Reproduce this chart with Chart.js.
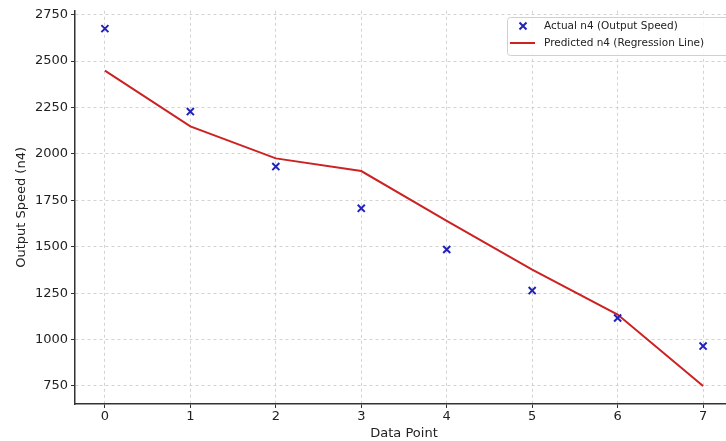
<!DOCTYPE html>
<html>
<head>
<meta charset="utf-8">
<script src="https://cdn.jsdelivr.net/npm/chart.js@4.4.1/dist/chart.umd.min.js"></script>
<style>
  html, body { margin: 0; padding: 0; background: #fff; overflow: hidden; }
  #wrap { width: 740px; height: 441px; }
</style>
</head>
<body>
<div id="wrap"><canvas id="speedChart" width="740" height="441"></canvas></div>
<script>
const dataPoints = [0, 1, 2, 3, 4, 5, 6, 7];
const actualN4 = [2675, 2228, 1932, 1707, 1485, 1264, 1116, 965];
const predictedN4 = [2449, 2148, 1976, 1908, 1640, 1377, 1135, 750];
const yTicks = [750, 1000, 1250, 1500, 1750, 2000, 2250, 2500, 2750];

const FONT = "'DejaVu Sans', sans-serif";

// legend drawn inside the plot, upper right like matplotlib
const innerLegend = {
  id: 'innerLegend',
  afterDraw(chart) {
    const c = chart.ctx;
    const x0 = 507, y0 = 17, w = 240, h = 38;
    c.save();
    c.fillStyle = 'rgba(255,255,255,0.85)';
    c.strokeStyle = '#d0d0d0';
    c.lineWidth = 1;
    c.beginPath();
    c.roundRect(x0 + 0.5, y0 + 0.5, w, h, 3);
    c.fill();
    c.stroke();
    c.font = '10.5px ' + FONT;
    c.textBaseline = 'middle';
    chart.data.datasets.forEach((ds, i) => {
      const cy = y0 + 9 + i * 17;
      c.strokeStyle = ds.borderColor;
      c.lineWidth = 2;
      c.beginPath();
      if (ds.showLine) {
        c.moveTo(510, cy);
        c.lineTo(535, cy);
      } else {
        c.moveTo(519.5, cy - 3.5); c.lineTo(526.5, cy + 3.5);
        c.moveTo(526.5, cy - 3.5); c.lineTo(519.5, cy + 3.5);
      }
      c.stroke();
      c.fillStyle = '#222';
      c.fillText(ds.label, 544, cy);
    });
    c.restore();
  }
};

const gridOpts = {
  color: '#c8c8c8', lineWidth: 0.8, tickColor: '#333', tickLength: 4,
  tickBorderDash: [], tickWidth: 1, drawTicks: true
};

const ctx = document.getElementById('speedChart').getContext('2d');
const speedChart = new Chart(ctx, {
  type: 'scatter',
  data: {
    datasets: [{
      label: 'Actual n4 (Output Speed)',
      data: dataPoints.map((x, i) => ({ x: x, y: actualN4[i] })),
      showLine: false,
      pointStyle: 'crossRot',
      pointRadius: 5,
      pointBorderWidth: 2,
      borderColor: '#2222bb',
      backgroundColor: '#2222bb',
      order: 0
    }, {
      label: 'Predicted n4 (Regression Line)',
      data: dataPoints.map((x, i) => ({ x: x, y: predictedN4[i] })),
      showLine: true,
      borderColor: '#cc2222',
      borderWidth: 2,
      pointRadius: 0,
      tension: 0,
      order: 1
    }]
  },
  options: {
    responsive: false,
    animation: false,
    layout: { padding: { top: 10, right: 4, left: 14, bottom: 0 } },
    plugins: {
      legend: { display: false },
      tooltip: { enabled: false }
    },
    scales: {
      x: {
        type: 'linear',
        min: -0.35,
        max: 7.35,
        afterBuildTicks: s => { s.ticks = dataPoints.map(v => ({ value: v })); },
        afterFit: s => { s.height = 37; },
        border: { display: true, color: '#333', width: 1.5, dash: [3, 3] },
        grid: gridOpts,
        ticks: { color: '#222', font: { family: FONT, size: 13 }, padding: 1 },
        title: {
          display: true, text: 'Data Point', color: '#222',
          font: { family: FONT, size: 13 }, padding: { top: 0, bottom: 0 }
        }
      },
      y: {
        min: 653,
        max: 2771,
        afterBuildTicks: s => { s.ticks = yTicks.map(v => ({ value: v })); },
        afterFit: s => { s.width = 61; },
        border: { display: true, color: '#333', width: 1.5, dash: [3, 3] },
        grid: gridOpts,
        ticks: {
          color: '#222', font: { family: FONT, size: 13 }, padding: 3,
          callback: v => String(v)
        },
        title: {
          display: true, text: 'Output Speed (n4)', color: '#222',
          font: { family: FONT, size: 13 }, padding: { top: 0, bottom: 2 }
        }
      }
    }
  },
  plugins: [innerLegend]
});
</script>
</body>
</html>
